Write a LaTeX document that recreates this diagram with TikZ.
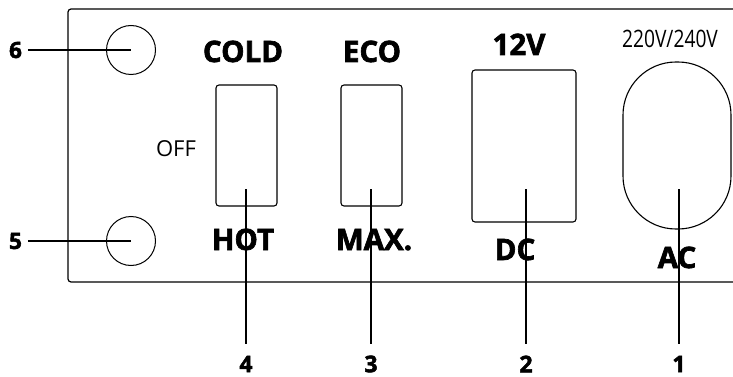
\documentclass[tikz,border=0pt]{standalone}
\usepackage{fontspec}
\setmainfont{Open Sans}
\newfontfamily\condfont[FakeStretch=0.8]{Open Sans}
\newfontfamily\heavyfont{Open Sans}[BoldFeatures={FakeBold=2.2}]
\begin{document}
\begin{tikzpicture}[x=1pt,y=-1pt,
  panelline/.style={line width=1.2pt, rounded corners=3pt},
  knob/.style={draw, circle, line width=1pt, minimum size=49pt, inner sep=0pt},
  switchbox/.style={draw, rectangle, line width=1.1pt, rounded corners=3pt, inner sep=0pt},
  leader/.style={line width=1.5pt},
  word/.style={anchor=base, inner sep=0pt, font=\heavyfont\fontsize{29.5}{30}\selectfont\bfseries},
  small/.style={anchor=base, inner sep=0pt, font=\fontsize{22}{24}\selectfont},
  numl/.style={inner sep=0pt, outer sep=6pt, font=\heavyfont\fontsize{22.5}{24}\selectfont\bfseries},
  numb/.style={inner sep=0pt, outer sep=12pt, font=\heavyfont\fontsize{23}{24}\selectfont\bfseries}
]
\useasboundingbox (0,0) rectangle (733,377);
% panel
\draw[panelline] (740,9) -- (68,9) -- (68,282) -- (740,282);
% knobs
\node[knob] (c6) at (131,50) {};
\node[knob] (c5) at (131,241) {};
% switches
\node[switchbox, minimum width=61pt, minimum height=121pt] (s1) at (246.5,145.5) {};
\node[switchbox, minimum width=61pt, minimum height=121pt] (s2) at (371.5,145.5) {};
\node[switchbox, minimum width=104pt, minimum height=152pt] (s3) at (524,146) {};
\node[draw, rectangle, line width=1.1pt, rounded corners=53pt, inner sep=0pt,
      minimum width=108pt, minimum height=167pt] (s4) at (677,145.5) {};
% texts
\node[word] (cold) at (243,62) {COLD};
\node[word] (hot) at (243,250) {HOT};
\node[word] (eco) at (372,62) {ECO};
\node[word] (max) at (374,250) {MAX.};
\node[word] (v12) at (519,55) {12V};
\node[word] (dc) at (515,260) {DC};
\node[word] (ac) at (677,268) {AC};
\node[small] (off) at (176,156) {OFF};
\node[anchor=base, inner sep=0pt, font=\condfont\fontsize{24}{26}\selectfont] (volt) at (670,48) {220V/240V};
% number labels
\node[numl] (l6) at (15.5,50) {6};
\node[numl] (l5) at (15.5,241) {5};
\node[numb] (l4) at (246,364) {4};
\node[numb] (l3) at (371,364) {3};
\node[numb] (l2) at (526,364) {2};
\node[numb] (l1) at (679,364) {1};
% leader start points
\coordinate (t4) at (246,189);
\coordinate (t3) at (371,189);
\coordinate (t2) at (526,189);
\coordinate (t1) at (679,189);
% leaders
\draw[leader] (l6.east) -- (c6.center);
\draw[leader] (l5.east) -- (c5.center);
\draw[leader] (t4) -- (l4.north);
\draw[leader] (t3) -- (l3.north);
\draw[leader] (t2) -- (l2.north);
\draw[leader] (t1) -- (l1.north);
\end{tikzpicture}
\end{document}
